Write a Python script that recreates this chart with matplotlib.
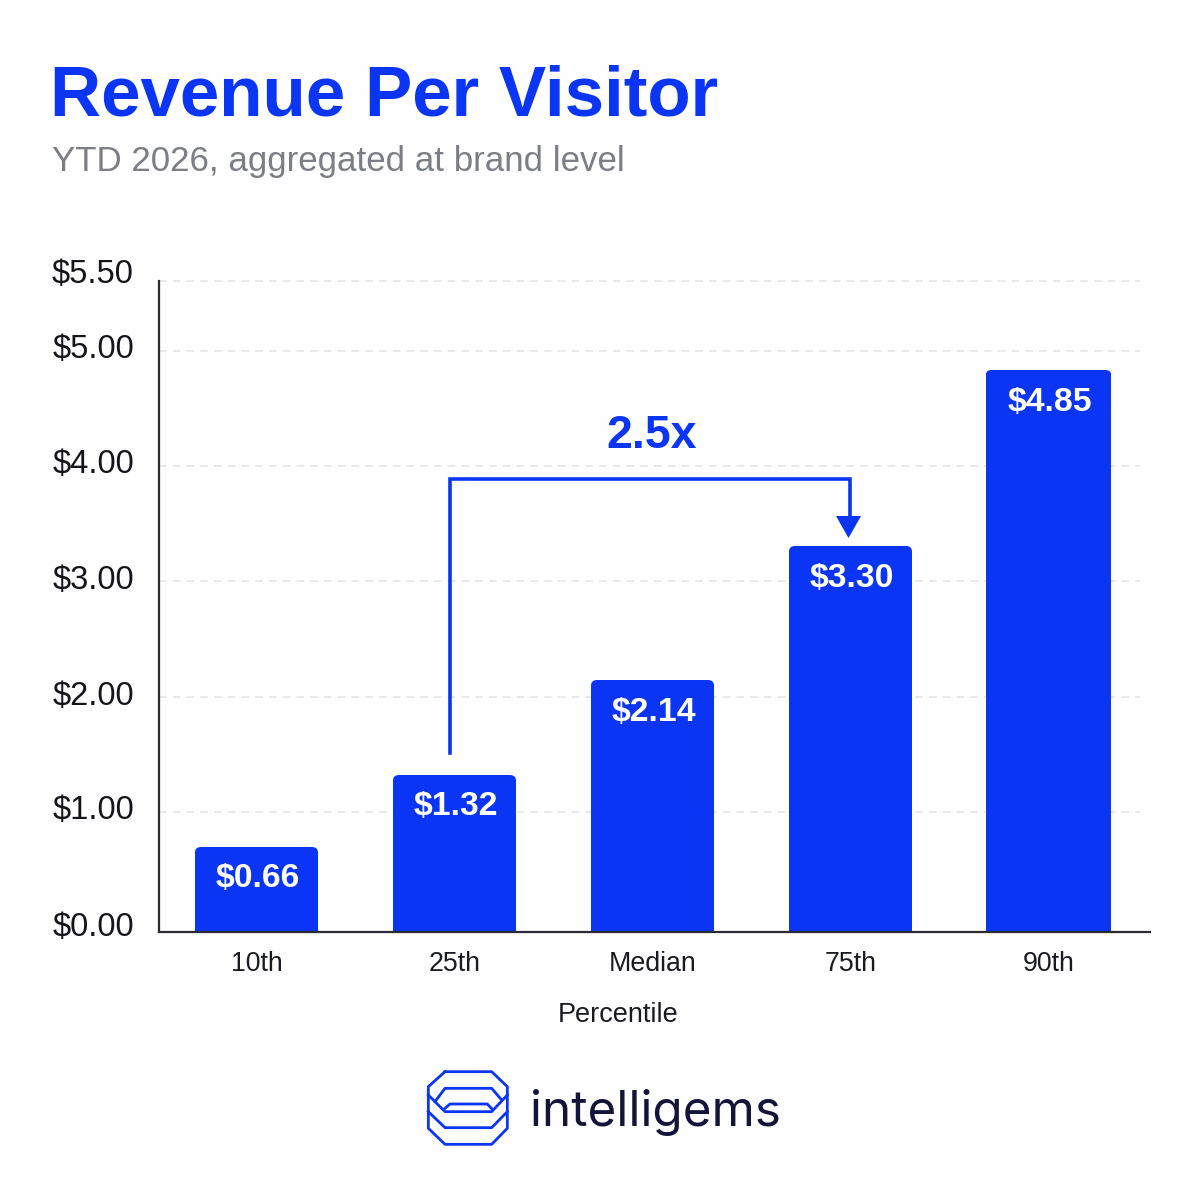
import numpy as np
import matplotlib
matplotlib.use("Agg")
import matplotlib.pyplot as plt
from matplotlib.patches import FancyBboxPatch, Polygon
from matplotlib.lines import Line2D
from matplotlib.transforms import IdentityTransform, ScaledTranslation

categories = ["10th", "25th", "Median", "75th", "90th"]
values = [0.66, 1.32, 2.14, 3.30, 4.85]
value_labels = ["$0.66", "$1.32", "$2.14", "$3.30", "$4.85"]
y_ticks = [0, 1, 2, 3, 4, 5, 5.5]
y_tick_labels = ["$0.00", "$1.00", "$2.00", "$3.00", "$4.00", "$5.00", "$5.50"]
# the reference's value axis is not evenly spaced: value -> height above baseline (px)
scale_values = [0, 0.66, 1, 1.32, 2, 2.14, 3, 3.30, 4, 4.85, 5, 5.5]
scale_heights = [0, 85, 120, 157, 235, 252, 351, 386, 466, 562, 581, 651]

BLUE = "#0b35f4"
BG = "#fefefe"
S = 1200
FONT = "Inter"
SANS = ["Liberation Sans"]
plt.rcParams["font.family"] = [FONT, "Liberation Sans", "DejaVu Sans"]

fig = plt.figure(figsize=(12, 12), dpi=100, facecolor=BG)


def fx(x):
    return x / S


def fy(y):
    return 1 - y / S


L, R, T, B = 159, 1150, 281, 932
ax = fig.add_axes([fx(L), fy(B), (R - L) / S, (B - T) / S], facecolor="none")
ax.set_yscale(
    "function",
    functions=(
        lambda v: np.interp(v, scale_values, scale_heights),
        lambda h: np.interp(h, scale_heights, scale_values),
    ),
)
ax.set_ylim(0, 5.5)
ax.set_xlim((L - 256.5) / 198, (R - 256.5) / 198)

x = np.arange(len(categories))
for t in y_ticks[1:]:
    ax.plot([ax.get_xlim()[0], (1140 - 256.5) / 198], [t, t], color="#e2e3e6", lw=1.1,
            dashes=(5, 4), zorder=1, clip_on=False)

bars = ax.bar(x, values, width=[0.622, 0.622, 0.622, 0.622, 0.636], color=BLUE, zorder=2)
fig.canvas.draw()
renderer = fig.canvas.get_renderer()
for bar in bars:
    e = bar.get_window_extent(renderer)
    r = 6
    clip = FancyBboxPatch((e.x0 + r, e.y0 - 20), e.width - 2 * r, e.height + 20 - r,
                          boxstyle=f"round,pad={r},rounding_size={r}",
                          transform=IdentityTransform())
    bar.set_clip_path(clip)

for xi, v, lab in zip(x, values, value_labels):
    ax.annotate(lab, (xi, v), xytext=(1.2, -32 * 0.72), textcoords="offset points",
                ha="center", va="center", color="white", fontsize=24.3, fontweight="bold",
                family=SANS, zorder=3)

for s in ("top", "right"):
    ax.spines[s].set_visible(False)
for s in ("left", "bottom"):
    ax.spines[s].set_color("#2a2b33")
    ax.spines[s].set_linewidth(1.6)

ax.set_yticks(y_ticks)
ax.set_yticklabels(y_tick_labels, fontsize=23.5, color="#14151a", family=SANS)
ax.tick_params(axis="y", length=0, pad=18)
ax.minorticks_off()
for lbl, dy in zip(ax.get_yticklabels(), [8, 5, 4, 4, 5, 5, 10]):
    lbl.set_transform(lbl.get_transform() + ScaledTranslation(0, dy * 0.72 / 72, fig.dpi_scale_trans))
ax.set_xticks(x)
ax.set_xticklabels(categories, fontsize=19.3, color="#1a1b22", family=SANS)
ax.tick_params(axis="x", length=0, pad=14)

# bracket between 25th and 75th
bracket_x = [0.975, 0.975, 2.995, 2.995]
bracket_y = [1.51, 3.89, 3.89, 3.47]
ax.plot(bracket_x, bracket_y, color=BLUE, lw=2.6, solid_joinstyle="miter", zorder=4)
fig.add_artist(Polygon([[fx(836), fy(516)], [fx(861), fy(516)], [fx(848.5), fy(538)]],
                       closed=True, facecolor=BLUE, edgecolor="none", transform=fig.transFigure))
fig.text(fx(652), fy(448), "2.5x", color=BLUE, fontsize=33.5, fontweight="bold", ha="center",
         va="baseline", family=SANS)

# heading
fig.text(fx(50), fy(115), "Revenue Per Visitor", color=BLUE, fontsize=51, fontweight="bold",
         ha="left", va="baseline", family=SANS)
fig.text(fx(52), fy(171), "YTD 2026, aggregated at brand level", color="#7b7e85", fontsize=25.1,
         ha="left", va="baseline", family=SANS)
fig.text(fx(618), fy(1015), "Percentile", color="#1a1b22", fontsize=19.5, ha="center", va="center",
         family=SANS)

# logo
logo_lines = [
    [(135, 65), (275, 65), (322, 110), (322, 235), (275, 283), (135, 283), (85, 235), (85, 110), (135, 65)],
    [(85, 135), (135, 185), (275, 185), (322, 135)],
    [(85, 185), (135, 233), (275, 233), (322, 185)],
    [(105, 155), (135, 115), (275, 115), (305, 150)],
    [(135, 175), (150, 162), (262, 162), (277, 178)],
]
for pts in logo_lines:
    xs = [fx(400 + p[0] / 3) for p in pts]
    ys = [fy(1050 + p[1] / 3) for p in pts]
    fig.add_artist(Line2D(xs, ys, color=BLUE, lw=2.0, transform=fig.transFigure))
fig.text(fx(530), fy(1112), "intelligems", color="#14143a", fontsize=35.6, fontweight="normal",
         ha="left", va="center")

fig.savefig("out.png", dpi=100, facecolor=BG)
